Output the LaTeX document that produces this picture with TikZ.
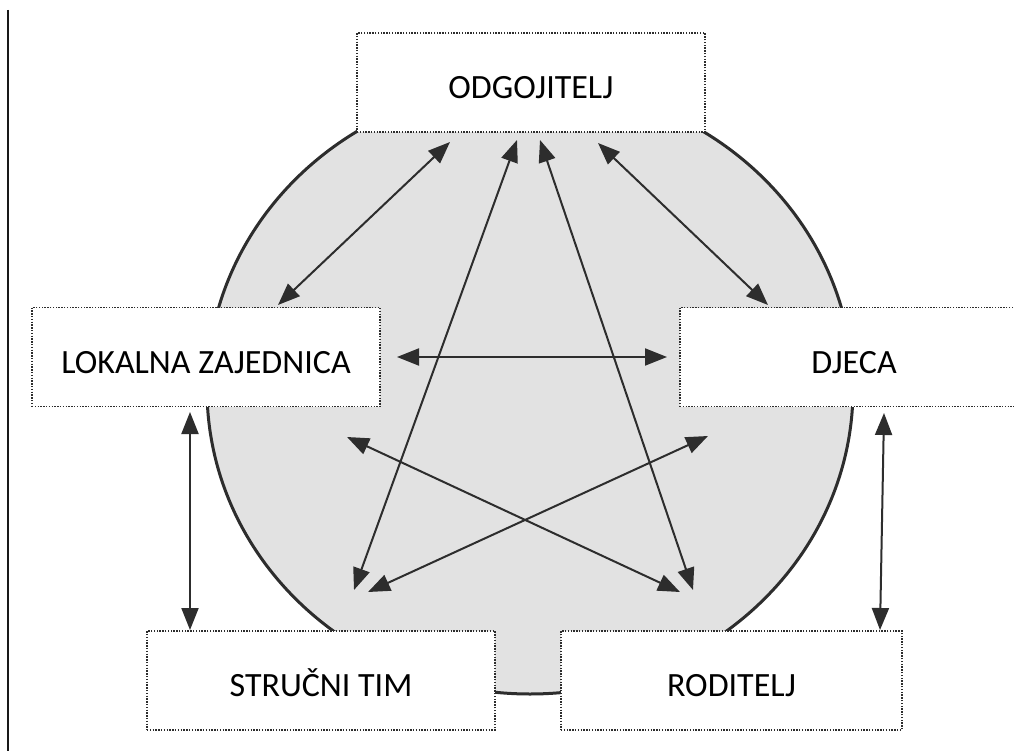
\documentclass[tikz,border=0pt]{standalone}
\usepackage{fontspec}
\setmainfont{Carlito}
\usetikzlibrary{arrows.meta}
\definecolor{ink}{RGB}{45,45,45}
\definecolor{shade}{RGB}{226,226,226}
\begin{document}
\begin{tikzpicture}[x=1pt,y=-1pt,
  box/.style={draw=ink, fill=white, line width=1.9pt, dash pattern=on 1.4pt off 1.4pt,
    minimum width=348pt, minimum height=99pt, inner sep=0pt,
    font=\fontsize{34}{40}\selectfont, text height=32pt, text depth=0pt},
  arr/.style={{Triangle[length=22pt,width=17pt]}-{Triangle[length=22pt,width=17pt]},
    line width=2pt, draw=ink},
  rim/.style={draw=ink, fill=shade, line width=3pt}]
\useasboundingbox (0,0) rectangle (1014,751);
\clip (0,0) rectangle (1014,751);
\fill[white] (0,0) rectangle (1014,751);
% left margin rule
\draw[line width=1.8pt, black!90] (8,10) -- (8,751);
% background ellipse
\draw[rim] (530,389) ellipse [x radius=323, y radius=305];
% boxes
\node[box] (odg) at (531,82.5) {ODGOJITELJ};
\node[box] (lok) at (206,357) {LOKALNA ZAJEDNICA};
\node[box] (dje) at (854,357) {DJECA};
\node[box] (str) at (321,680.5) {STRUČNI TIM};
\node[box, minimum width=341pt] (rod) at (731.5,680.5) {RODITELJ};
% arrow endpoints
\coordinate (oL) at (450,142);
\coordinate (oS) at (517,140);
\coordinate (oR) at (540,140);
\coordinate (oD) at (598,143);
\coordinate (lO) at (278,305);
\coordinate (lD) at (397,357);
\coordinate (lR) at (347,437);
\coordinate (lS) at (190,412);
\coordinate (dL) at (667,357);
\coordinate (dO) at (768,305);
\coordinate (dS) at (708,436);
\coordinate (dR) at (884,413);
\coordinate (sO) at (354,590);
\coordinate (sD) at (368,592);
\coordinate (sL) at (190,630);
\coordinate (rO) at (693,590);
\coordinate (rL) at (680,592);
\coordinate (rD) at (880,630);
% connectors
\draw[arr] (oL) -- (lO);
\draw[arr] (oD) -- (dO);
\draw[arr] (oS) -- (sO);
\draw[arr] (oR) -- (rO);
\draw[arr] (lD) -- (dL);
\draw[arr] (lR) -- (rL);
\draw[arr] (sD) -- (dS);
\draw[arr] (lS) -- (sL);
\draw[arr] (dR) -- (rD);
\end{tikzpicture}
\end{document}
